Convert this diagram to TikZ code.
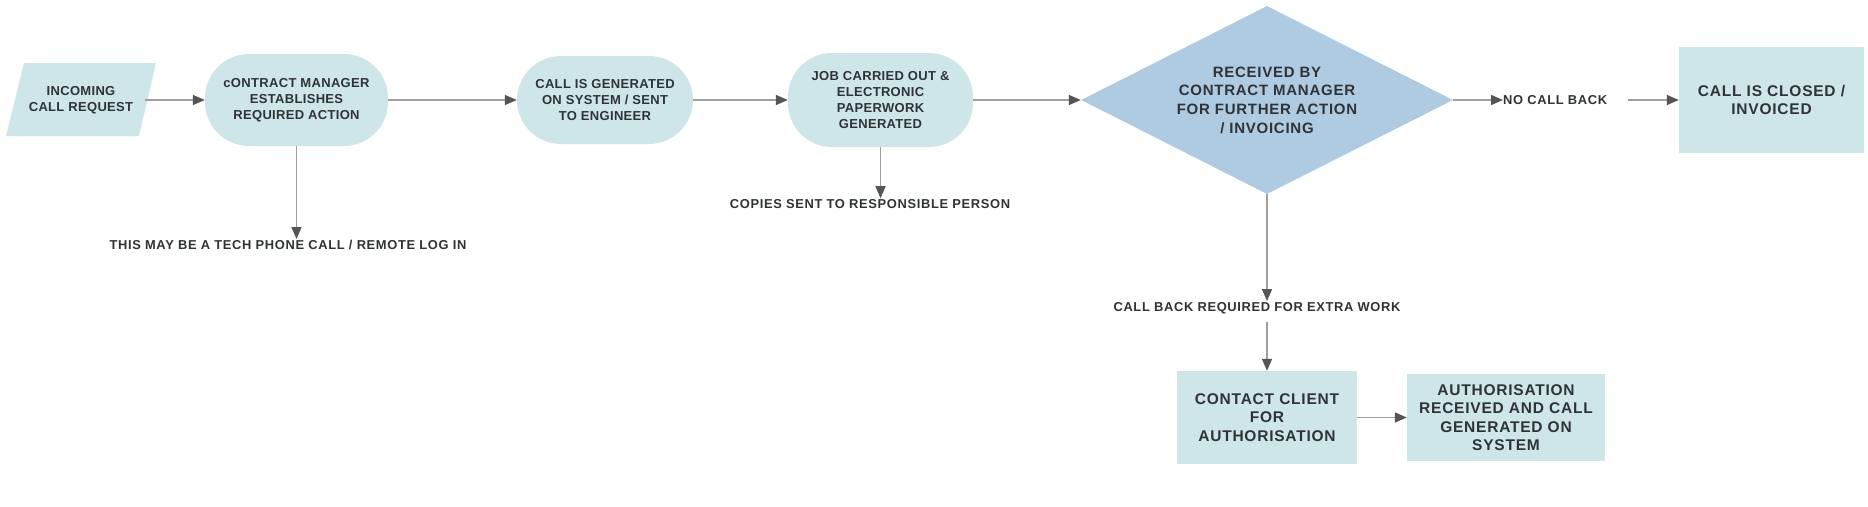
\documentclass[tikz,border=0pt]{standalone}
\usepackage{fontspec}
\setmainfont{Liberation Sans}[LetterSpace=5.0]
\usetikzlibrary{arrows.meta,shapes.geometric}
\definecolor{boxfill}{HTML}{CFE6E9}
\definecolor{diafill}{HTML}{AECBE2}
\definecolor{txt}{HTML}{2F3336}
\definecolor{linec}{HTML}{A0A0A0}
\definecolor{tipc}{HTML}{555555}
\tikzset{
  smalltxt/.style={font=\bfseries\addfontfeature{LetterSpace=2.5}\fontsize{13}{16}\selectfont, text=txt, align=center},
  bigtxt/.style={font=\bfseries\fontsize{15.5}{18.5}\selectfont, text=txt, align=center},
  pill/.style={smalltxt, fill=boxfill, rounded corners=44pt, inner sep=0pt},
  plainbox/.style={bigtxt, fill=boxfill, inner sep=0pt},
  lbl/.style={font=\bfseries\fontsize{12.9}{16}\selectfont, text=txt, align=center, inner sep=1pt},
  conn/.style={draw=linec, line width=1.5pt, -{Triangle[length=12pt,width=10pt,color=tipc]}},
}
\begin{document}
\begin{tikzpicture}[x=1pt,y=-1pt]
\fill[white] (0,0) rectangle (1868,506);
\useasboundingbox (0,0) rectangle (1868,506);

% parallelogram
\fill[boxfill] (24,63) -- (156,63) -- (139,136) -- (6,136) -- cycle;
\node[smalltxt, minimum width=128pt, minimum height=73pt, inner sep=0pt] (inc) at (81,100) {INCOMING\\CALL REQUEST};

\node[pill, minimum width=183pt, minimum height=92pt] (b1) at (296.5,100) {cONTRACT MANAGER\\ESTABLISHES\\REQUIRED ACTION};
\node[pill, minimum width=176pt, minimum height=88pt] (b2) at (605,100) {CALL IS GENERATED\\ON SYSTEM / SENT\\TO ENGINEER};
\node[pill, minimum width=185pt, minimum height=94pt] (b3) at (880.5,100) {JOB CARRIED OUT \&\\ELECTRONIC\\PAPERWORK\\GENERATED};

\node[diamond, aspect=1.98, fill=diafill, bigtxt, font=\bfseries\fontsize{15}{18.7}\selectfont, minimum width=372pt, minimum height=188pt, inner sep=0pt] (dia) at (1267,100) {RECEIVED BY\\CONTRACT MANAGER\\FOR FURTHER ACTION\\/ INVOICING};

\node[lbl, anchor=west, inner sep=0pt] (nocb) at (1503,100) {NO CALL BACK};
\node[plainbox, minimum width=185pt, minimum height=106pt] (closed) at (1771.5,100) {CALL IS CLOSED /\\INVOICED};

\node[lbl] (l1) at (288,245) {THIS MAY BE A TECH PHONE CALL / REMOTE LOG IN};
\node[lbl] (l2) at (870,204) {COPIES SENT TO RESPONSIBLE PERSON};
\node[lbl] (l3) at (1257,308) {CALL BACK REQUIRED FOR EXTRA WORK};

\node[plainbox, minimum width=180pt, minimum height=93pt] (contact) at (1267,417.5) {CONTACT CLIENT\\FOR\\AUTHORISATION};
\node[plainbox, minimum width=198pt, minimum height=87pt] (auth) at (1506,417.5) {AUTHORISATION\\RECEIVED AND CALL\\GENERATED ON\\SYSTEM};

% connectors
\draw[conn] (inc.east) -- (b1.west);
\draw[conn] (b1.east) -- (b2.west);
\draw[conn] (b2.east) -- (b3.west);
\draw[conn] (b3.east) -- (dia.west);
\draw[conn] (dia.east) -- (nocb.west);
\draw[conn] ([xshift=21pt]nocb.east) -- (closed.west);
\draw[conn] (b1.south) -- (b1.south |- l1.north);
\draw[conn] (b3.south) -- (b3.south |- l2.north);
\draw[conn] (dia.south) -- (dia.south |- l3.north);
\draw[conn] (dia.south |- 0,322) coordinate (l3out) -- (contact.north);
\draw[conn] (contact.east) -- (auth.west);
\end{tikzpicture}
\end{document}
